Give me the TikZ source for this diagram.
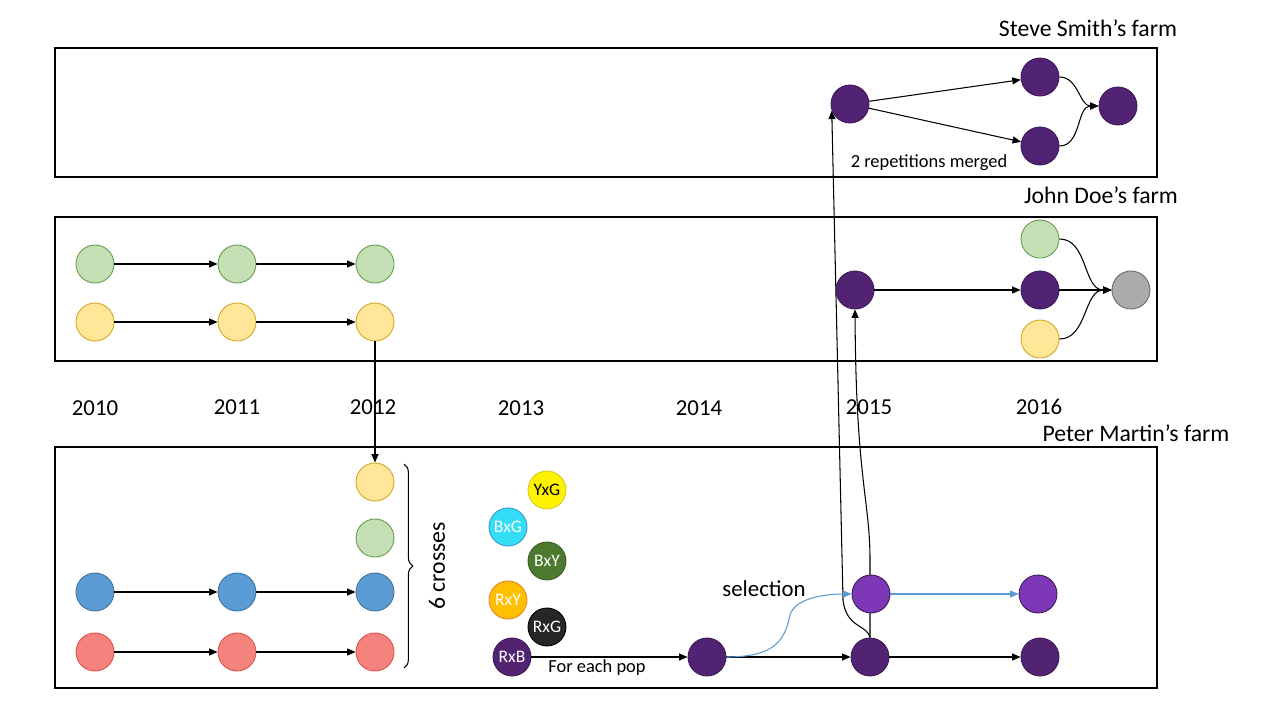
\documentclass[tikz,border=0pt]{standalone}
\usepackage{fontspec}
\setmainfont{Carlito}
\usetikzlibrary{arrows.meta,decorations.pathreplacing,backgrounds}

\definecolor{greenfill}{HTML}{C5E0B4}
\definecolor{greenline}{HTML}{6A9A4A}
\definecolor{yellowfill}{HTML}{FFE699}
\definecolor{yellowline}{HTML}{D6A520}
\definecolor{bluefill}{HTML}{5B9BD5}
\definecolor{blueline}{HTML}{41719C}
\definecolor{redfill}{HTML}{F4837D}
\definecolor{redline}{HTML}{E0504A}
\definecolor{darkpurple}{HTML}{522273}
\definecolor{lightpurple}{HTML}{7E38B7}
\definecolor{purpleline}{HTML}{3D1A55}
\definecolor{greyfill}{HTML}{ADAAAA}
\definecolor{greyline}{HTML}{6B6B6B}
\definecolor{selblue}{HTML}{5B9BD5}

\tikzset{
  pop/.style={circle, minimum size=0.76cm, inner sep=0pt, line width=0.5pt},
  greenpop/.style={pop, fill=greenfill, draw=greenline},
  yellowpop/.style={pop, fill=yellowfill, draw=yellowline},
  bluepop/.style={pop, fill=bluefill, draw=blueline},
  redpop/.style={pop, fill=redfill, draw=redline},
  darkpop/.style={pop, fill=darkpurple, draw=purpleline},
  lightpop/.style={pop, fill=lightpurple, draw=purpleline},
  greypop/.style={pop, fill=greyfill, draw=greyline},
  crosspop/.style={pop, font=\fontsize{10}{11}\selectfont, text=white},
  farm/.style={draw, line width=0.6pt},
  arr/.style={-{Triangle[length=1.7mm,width=1.4mm]}, line width=0.6pt},
  year/.style={font=\fontsize{13}{14}\selectfont},
  farmlabel/.style={font=\fontsize{13.5}{15}\selectfont}
}

\begin{document}
\begin{tikzpicture}[x=0.02cm, y=-0.02cm]
  \useasboundingbox (0,0) rectangle (1280,720);
  %%%%% farms %%%%%
  \draw[farm] (55,48) rectangle (1157,177);
  \draw[farm] (55,217) rectangle (1157,361);
  \draw[farm] (55,447) rectangle (1157,688);
  \node[farmlabel] (steve) at (1088,28) {Steve Smith’s farm};
  \node[farmlabel] (john) at (1101,195) {John Doe’s farm};
  \node[farmlabel] (peter) at (1136,433) {Peter Martin’s farm};

  %%%%% years %%%%%
  \node[year] (y2010) at (95,408) {2010};
  \node[year] (y2011) at (237,407) {2011};
  \node[year] (y2012) at (373,407) {2012};
  \node[year] (y2013) at (521,408) {2013};
  \node[year] (y2014) at (699,408) {2014};
  \node[year] (y2015) at (869,407) {2015};
  \node[year] (y2016) at (1039,407) {2016};

  %%%%% John Doe %%%%%
  \node[greenpop] (jg10) at (95,264) {};
  \node[greenpop] (jg11) at (237,264) {};
  \node[greenpop] (jg12) at (375,264) {};
  \node[yellowpop] (jy10) at (95,322) {};
  \node[yellowpop] (jy11) at (237,322) {};
  \node[yellowpop] (jy12) at (375,322) {};
  \node[darkpop] (jp15) at (855,290) {};
  \node[greenpop] (jg16) at (1040,239) {};
  \node[darkpop] (jp16) at (1040,290) {};
  \node[yellowpop] (jy16) at (1040,339) {};
  \node[greypop] (jmix) at (1131,290) {};

  %%%%% Steve Smith %%%%%
  \node[darkpop] (sp15) at (850,104) {};
  \node[darkpop] (sa16) at (1040,77) {};
  \node[darkpop] (sb16) at (1040,146) {};
  \node[darkpop] (smix) at (1118,106) {};
  \node (merged) at (929,163) {\fontsize{10.5}{12}\selectfont 2 repetitions merged};

  %%%%% Peter Martin %%%%%
  \node[yellowpop] (py12) at (375,482) {};
  \node[greenpop] (pg12) at (375,538) {};
  \node[bluepop] (pb10) at (95,592) {};
  \node[bluepop] (pb11) at (237,592) {};
  \node[bluepop] (pb12) at (375,592) {};
  \node[redpop] (pr10) at (95,652) {};
  \node[redpop] (pr11) at (237,652) {};
  \node[redpop] (pr12) at (375,652) {};

  \node[crosspop, fill=yellow, draw=yellow!80!black, text=black] (yxg) at (547,490) {YxG};
  \node[crosspop, fill={rgb,255:red,51;green,221;blue,245}, draw={rgb,255:red,51;green,153;blue,204}] (bxg) at (508,527) {BxG};
  \node[crosspop, fill={rgb,255:red,78;green,122;blue,47}, draw={rgb,255:red,60;green,95;blue,36}] (bxy) at (547,561) {BxY};
  \node[crosspop, fill={rgb,255:red,255;green,192;blue,0}, draw={rgb,255:red,240;green,128;blue,48}] (rxy) at (508,600) {RxY};
  \node[crosspop, fill={rgb,255:red,38;green,38;blue,38}, draw=black] (rxg) at (547,627) {RxG};
  \node[crosspop, fill=darkpurple, draw=purpleline] (rxb) at (512,657) {RxB};
  \node (eachpop) at (597,668) {\fontsize{10.5}{12}\selectfont For each pop};

  \node[darkpop] (pp14) at (707,657) {};
  \node[lightpop] (pl15) at (871,594) {};
  \node[darkpop] (pp15) at (870,657) {};
  \node[lightpop] (pl16) at (1038,594) {};
  \node[darkpop] (pp16) at (1040,657) {};
  \node (selection) at (764,589) {\fontsize{13}{14}\selectfont selection};

  \draw[decorate, decoration={brace, amplitude=5pt}, line width=0.6pt]
    (404,464) -- (404,668) coordinate[midway] (bracetip);
  \node[rotate=90, font=\fontsize{13.5}{15}\selectfont] (crosses) at (437,566) {6 crosses};

  %%%%% arrows %%%%%
  \draw[arr] (jg10) -- (jg11);
  \draw[arr] (jg11) -- (jg12);
  \draw[arr] (jy10) -- (jy11);
  \draw[arr] (jy11) -- (jy12);
  \draw[arr] (jy12) -- (py12);
  \draw[arr] (pb10) -- (pb11);
  \draw[arr] (pb11) -- (pb12);
  \draw[arr] (pr10) -- (pr11);
  \draw[arr] (pr11) -- (pr12);

  \draw[arr] (rxb) -- (pp14);
  \draw[arr] (pp14) -- (pp15);
  \draw[arr, draw=selblue, -{Triangle[length=1.7mm,width=1.4mm,fill=selblue]}]
    (pp14.east) .. controls (775,657) and (785,640) .. (790,615)
    .. controls (795,598) and (825,594) .. (pl15.west);
  \draw[arr, draw=selblue, -{Triangle[length=1.7mm,width=1.4mm,fill=selblue]}] (pl15) -- (pl16);
  \draw[arr] (pp15) -- (pp16);

  \begin{pgfonlayer}{background}
    \draw[arr] (pp15.north) -- (870,560) .. controls (870,500) and (856,480) .. (jp15.south);
    \draw[arr] (pp15.north) .. controls (868,625) and (846,628) .. (843,600)
      -- (sp15.200);
  \end{pgfonlayer}

  \draw[arr] (jp15) -- (jp16);
  \draw[arr] (jg16.east) to[out=0, in=180] (jmix.west);
  \draw[arr] (jp16.east) to[out=0, in=180] (jmix.west);
  \draw[arr] (jy16.east) to[out=0, in=180] (jmix.west);

  \draw[arr] (sp15) -- (sa16);
  \draw[arr] (sp15) -- (sb16);
  \draw[arr] (sa16.east) to[out=0, in=180] (smix.west);
  \draw[arr] (sb16.east) to[out=0, in=180] (smix.west);
\end{tikzpicture}
\end{document}
